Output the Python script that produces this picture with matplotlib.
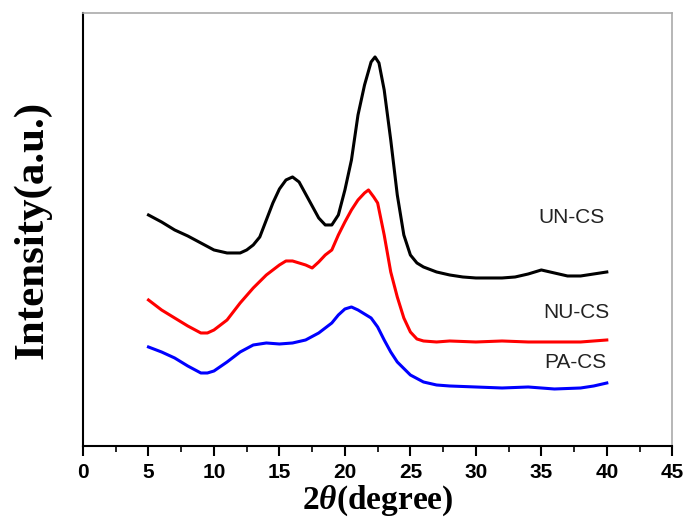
import matplotlib
matplotlib.use('Agg')
import matplotlib.pyplot as plt
from matplotlib.ticker import MultipleLocator

# XRD patterns of the three chitosan samples (intensity in arbitrary units)
un_x = [5, 6, 7, 8, 9, 10, 11, 12, 12.5, 13, 13.5, 14, 14.5, 15, 15.5, 16, 16.5,
        17, 17.5, 18, 18.5, 19, 19.5, 20, 20.5, 21, 21.5, 22, 22.3, 22.6, 23,
        23.5, 24, 24.5, 25, 25.5, 26, 27, 28, 29, 30, 31, 32, 33, 34, 35, 36,
        37, 38, 39, 40]
un_y = [231, 224, 216, 210, 203, 196, 193, 193, 196, 201, 209, 226, 243, 257,
        266, 269, 264, 252, 240, 228, 221, 221, 231, 256, 286, 331, 361, 384,
        389, 383, 356, 306, 251, 211, 191, 183, 179, 174, 171, 169, 168, 168,
        168, 169, 172, 176, 173, 170, 170, 172, 174]

nu_x = [5, 6, 7, 8, 9, 9.5, 10, 11, 12, 13, 14, 15, 15.5, 16, 17, 17.5, 18,
        18.5, 19, 19.5, 20, 20.5, 21, 21.5, 21.8, 22.2, 22.5, 23, 23.5, 24,
        24.5, 25, 25.5, 26, 27, 28, 30, 32, 34, 36, 38, 40]
nu_y = [146, 136, 128, 120, 113, 113, 116, 126, 143, 158, 171, 181, 185, 185,
        181, 178, 184, 191, 196, 211, 224, 236, 246, 253, 256, 249, 243, 211,
        174, 149, 128, 114, 107, 105, 104, 105, 104, 105, 104, 104, 104, 106]

pa_x = [5, 6, 7, 8, 9, 9.5, 10, 11, 12, 13, 14, 15, 16, 17, 18, 19, 19.5, 20,
        20.5, 21, 22, 22.5, 23, 23.5, 24, 25, 26, 27, 28, 30, 32, 34, 36, 38,
        39, 40]
pa_y = [99, 94, 88, 80, 73, 73, 75, 84, 94, 101, 103, 102, 103, 106, 113, 123,
        131, 137, 139, 136, 128, 119, 106, 94, 84, 71, 64, 61, 60, 59, 58, 59,
        57, 58, 60, 63]

labels = ['UN-CS', 'NU-CS', 'PA-CS']
label_pos = [(37.3, 228), (37.7, 133), (37.6, 83)]
colors = ['black', '#ff0000', '#0000ff']

plt.rcParams['mathtext.fontset'] = 'custom'
plt.rcParams['mathtext.rm'] = 'Liberation Serif:bold'
plt.rcParams['mathtext.it'] = 'Liberation Serif:italic:bold'

fig = plt.figure(figsize=(6.86, 5.18), dpi=100)
ax = fig.add_axes([0.121, 0.139, 0.859, 0.836])

for xs, ys, c in zip([un_x, nu_x, pa_x], [un_y, nu_y, pa_y], colors):
    ax.plot(xs, ys, color=c, lw=2.2)

for lab, (lx, ly) in zip(labels, label_pos):
    ax.text(lx, ly, lab, fontsize=15, family='Liberation Sans', color='#222222',
            ha='center', va='center')

ax.set_xlim(0, 45)
ax.set_ylim(0, 433)
ax.xaxis.set_major_locator(MultipleLocator(5))
ax.xaxis.set_minor_locator(MultipleLocator(2.5))
ax.set_yticks([])
ax.tick_params(axis='x', which='major', direction='out', length=7, width=1.5,
               labelsize=15, pad=5)
ax.tick_params(axis='x', which='minor', direction='out', length=4, width=1.2)
for t in ax.get_xticklabels():
    t.set_fontfamily('Liberation Sans')
    t.set_fontweight('bold')

ax.spines['left'].set_linewidth(1.5)
ax.spines['bottom'].set_linewidth(1.5)
for s in ['top', 'right']:
    ax.spines[s].set_color('#aaaaaa')
    ax.spines[s].set_linewidth(1.2)

ax.set_xlabel(r'2$\mathit{\theta}$(degree)', fontsize=24, family='Liberation Serif',
              fontweight='bold', labelpad=1)
ax.set_ylabel('Intensity(a.u.)', fontsize=31, family='Liberation Serif',
              fontweight='bold', labelpad=23)

fig.savefig('out.png', dpi=100)
